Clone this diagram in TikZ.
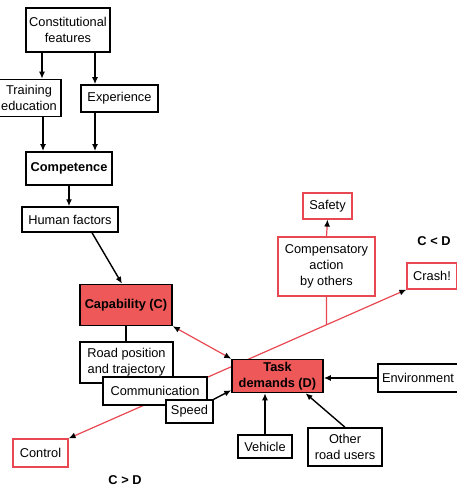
\documentclass[tikz,border=0pt]{standalone}
\usepackage{fontspec}
\setmainfont{Liberation Sans}
\usetikzlibrary{arrows.meta,backgrounds}
\definecolor{demandred}{RGB}{238,88,88}
\definecolor{linered}{RGB}{232,72,82}

\begin{document}
\begin{tikzpicture}[x=1pt,y=-1pt,
    every node/.style={font=\fontsize{12.8}{16}\selectfont, align=center, inner sep=0pt},
    box/.style={draw, line width=1.5pt, fill=white},
    redbox/.style={draw=linered, line width=1.2pt, fill=white},
    hotbox/.style={draw, line width=1.5pt, fill=demandred, font=\fontsize{12.8}{16}\selectfont\bfseries},
    arr/.style={-{Latex[length=7pt,width=6pt]}, line width=1.4pt},
    redarr/.style={draw=linered, line width=1.2pt},
    blacktip/.tip={Latex[black,length=7pt,width=6pt]}]
                \useasboundingbox (0,0) rectangle (456,486);
                \node[box, line width=1.8pt, minimum width=84pt, minimum height=44pt] (CF) at (68,30) {Constitutional\\features};
                \node[box, minimum width=64pt, minimum height=37pt] (TE) at (29,98) {Training\\education};
                \node[box, minimum width=77pt, minimum height=27pt] (EX) at (119.5,98.5) {Experience};
                \node[box, line width=1.8pt, minimum width=86pt, minimum height=33pt, font=\fontsize{12.8}{16}\selectfont\bfseries] (CO) at (69,168.5) {Competence};
                \node[box, minimum width=96pt, minimum height=25pt] (HF) at (70,219.5) {Human factors};
                \node[hotbox, minimum width=92pt, minimum height=41pt] (CAP) at (126,305) {Capability (C)};
                \node[box, minimum width=93pt, minimum height=41pt] (RP) at (126.5,362.5) {Road position\\and trajectory};
                \node[box, minimum width=104pt, minimum height=28pt] (COM) at (155,391) {Communication};
                \node[box, minimum width=47pt, minimum height=23pt] (SP) at (189.5,411.5) {Speed};
                \node[redbox, minimum width=55pt, minimum height=28pt] (CTL) at (40.5,453) {Control};
                \node[font=\fontsize{12.8}{16}\selectfont\bfseries] (CGD) at (125,480) {C > D};
                \node[hotbox, minimum width=91pt, minimum height=33pt] (TD) at (277.5,376) {Task\\demands (D)};
                \node[box, minimum width=80pt, minimum height=28pt] (ENV) at (418,378) {Environment};
                \node[box, minimum width=54pt, minimum height=23pt] (VEH) at (265,446.5) {Vehicle};
                \node[box, minimum width=74pt, minimum height=38pt] (ORU) at (345,447) {Other\\road users};
                \node[redbox, minimum width=49pt, minimum height=26pt] (SAF) at (327.5,206) {Safety};
                \node[redbox, minimum width=97pt, minimum height=59pt] (CA) at (326.5,266.5) {Compensatory\\action\\by others};
                \node[font=\fontsize{12.8}{16}\selectfont\bfseries] (CLD) at (434,241) {C < D};
                \node[redbox, minimum width=50pt, minimum height=26pt] (CR) at (432,276) {Crash!};
                % black arrows
                \draw[arr] ([xshift=-26pt]CF.south) -- ([xshift=-26pt]CF.south |- TE.north);
                \draw[arr] ([xshift=27pt]CF.south) -- ([xshift=27pt]CF.south |- EX.north);
                \draw[arr] ([xshift=-26pt]CO.north |- TE.south) -- ([xshift=-26pt]CO.north);
                \draw[arr] ([xshift=26pt]CO.north |- EX.south) -- ([xshift=26pt]CO.north);
                \draw[arr] (CO.south) -- (CO.south |- HF.north);
                \draw[arr] ([xshift=22pt]HF.south) -- ([xshift=-4pt]CAP.north);
                \draw[line width=1.4pt] (CAP.south) -- (CAP.south |- RP.north);
                \draw[arr] (SP.north east) -- ([yshift=3pt]TD.south west);
                \draw[arr] (ENV.west) -- (ENV.west -| TD.east);
                \draw[arr] (VEH.north) -- (VEH.north |- TD.south);
                \draw[arr] (ORU.north) -- ([xshift=28pt]TD.south);
                \draw[redarr, -blacktip] (CA.north) -- (SAF.south);
                % red lines behind the boxes
                \begin{scope}[on background layer]
                \draw[redarr, blacktip-blacktip] (CTL.north east) -- (CR.south west);
                \coordinate (J) at (intersection of CTL.north east--CR.south west and CA.south--CA.north);
                \draw[redarr] (CA.south) -- (J);
                \draw[redarr, blacktip-blacktip] (CAP.south east) -- (TD.north west);
                \end{scope}
\end{tikzpicture}
\end{document}
